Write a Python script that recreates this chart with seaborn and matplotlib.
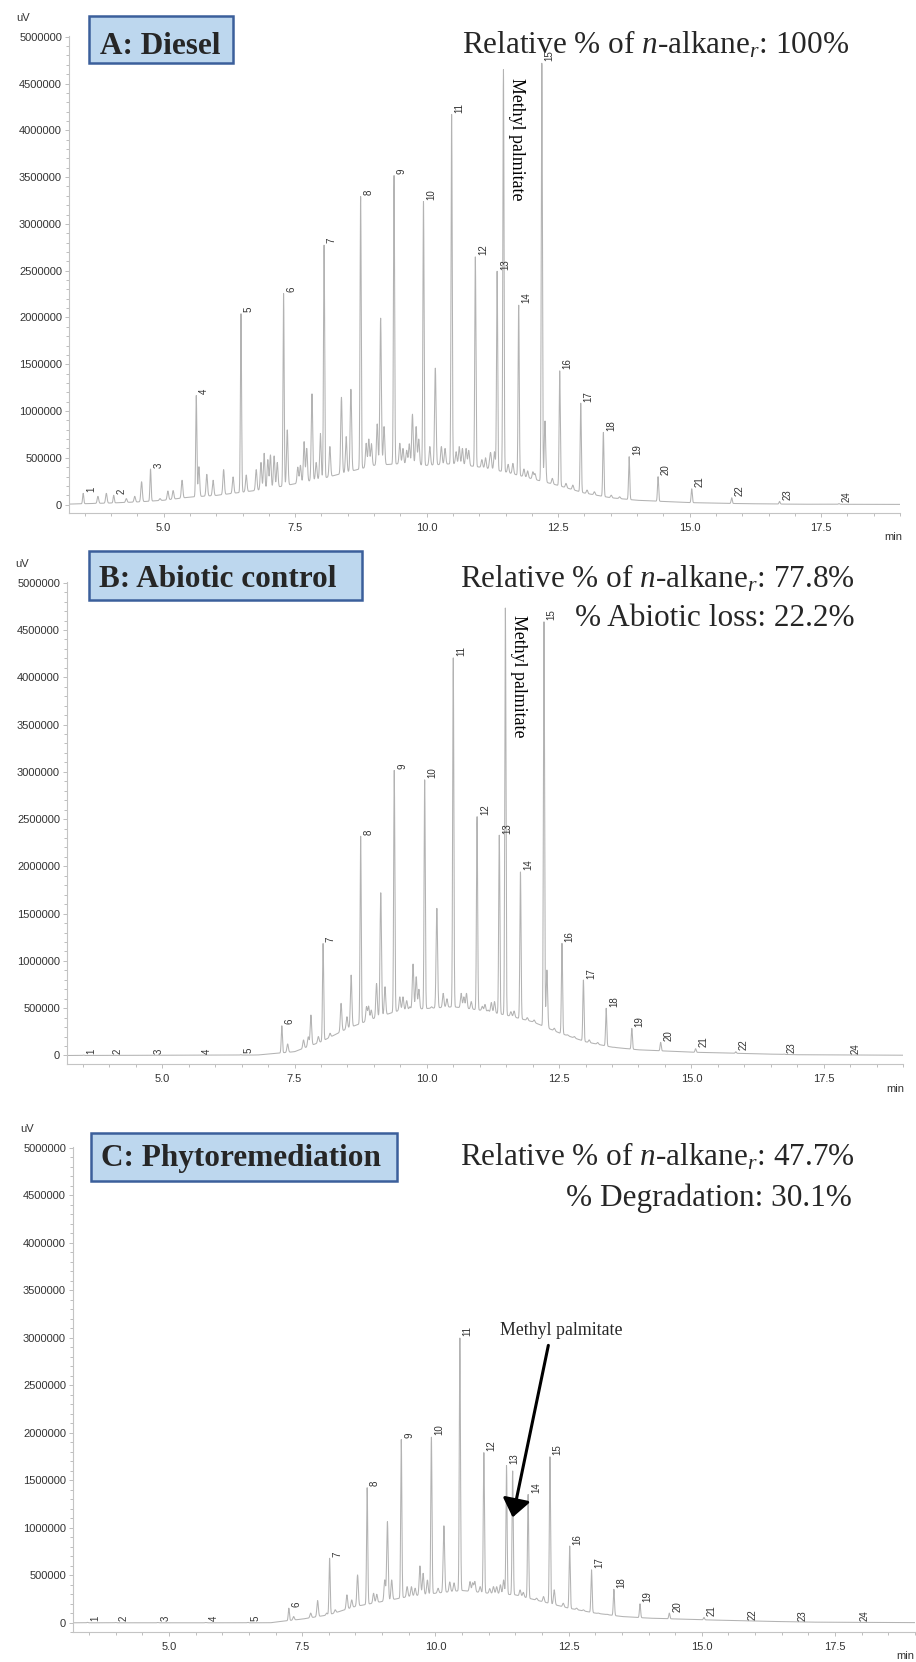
import numpy as np
import pandas as pd
import matplotlib
matplotlib.use("Agg")
import matplotlib.pyplot as plt
from matplotlib.patches import Rectangle
from matplotlib.ticker import MultipleLocator, FixedLocator, FormatStrFormatter
import seaborn as sns

W, H = 916, 1662

# numbered n-alkane peaks
peak_labels = [str(i) for i in range(1, 25)]

# A: diesel
rt_A = [3.47, 4.05, 4.75, 5.62, 6.47, 7.28, 8.05, 8.745, 9.38, 9.94, 10.475, 10.926,
        11.34, 11.75, 12.19, 12.53, 12.93, 13.36, 13.85, 14.40, 15.04, 15.80, 16.71, 17.84]
ht_A = [120000, 100000, 380000, 1165000, 2047000, 2261000, 2778000, 3296000, 3520000,
        3242000, 4170000, 2653000, 2493000, 2136000, 4724000, 1433000, 1083000, 773000,
        512000, 298000, 169000, 73000, 34000, 10000]
minor_rt_A = [3.75, 3.91, 4.29, 4.45, 4.58, 4.93, 5.08, 5.18, 5.35, 5.67, 5.82, 5.94, 6.14,
              6.32, 6.57, 6.76, 6.85, 6.91, 6.98, 7.03, 7.1, 7.16, 7.35, 7.55, 7.6, 7.67,
              7.72, 7.82, 7.9, 7.98, 8.16, 8.38, 8.47, 8.56, 8.85, 8.9, 8.95, 9.06, 9.125,
              9.19, 9.49, 9.55, 9.62, 9.67, 9.73, 9.80, 9.85, 10.06, 10.165, 10.28, 10.35,
              10.56, 10.62, 10.68, 10.75, 10.80, 11.05, 11.12, 11.2, 11.22, 11.29, 11.55,
              11.64, 11.85, 11.92, 12.02, 12.06, 12.25, 12.39, 12.65, 12.78, 13.05, 13.19,
              13.51, 13.67]
minor_ht_A = [88000, 120000, 64000, 88000, 244000, 64000, 145000, 150000, 260000, 405000,
              323000, 260000, 374000, 296000, 316000, 374000, 450000, 548000, 480000, 530000,
              520000, 450000, 798000, 400000, 420000, 672000, 600000, 1183000, 450000, 760000,
              620000, 1148000, 726000, 1233000, 655000, 700000, 650000, 862000, 1994000,
              834000, 655000, 600000, 580000, 650000, 966000, 834000, 700000, 620000,
              1458000, 620000, 600000, 565000, 620000, 600000, 600000, 580000, 480000,
              500000, 460000, 520000, 565000, 430000, 440000, 380000, 360000, 350000, 330000,
              894000, 280000, 226000, 208000, 155000, 137000, 100000, 83000]
base_rt_A = [3.2, 4.0, 4.5, 5.0, 5.5, 6.0, 6.5, 7.0, 7.5, 8.0, 8.5, 9.0, 9.5, 10.0, 10.5,
             11.0, 11.5, 12.0, 12.5, 13.0, 13.5, 14.0, 15.0, 16.0, 17.0, 19.0]
base_ht_A = [5000, 17000, 28000, 46000, 80000, 98000, 133000, 169000, 223000, 276000,
             348000, 419000, 437000, 419000, 437000, 401000, 348000, 276000, 205000, 123000,
             73000, 46000, 21000, 10000, 4000, 2000]

# B: abiotic control
rt_B = [3.51, 4.0, 4.79, 5.69, 6.48, 7.26, 8.04, 8.75, 9.385, 9.96, 10.50, 10.95, 11.37,
        11.77, 12.215, 12.555, 12.96, 13.39, 13.875, 14.42, 15.08, 15.84, 16.75, 17.95]
ht_B = [4000, 3000, 3000, 3000, 8000, 315000, 1186000, 2320000, 3018000, 2920000, 4209000,
        2532000, 2331000, 1943000, 4586000, 1186000, 798000, 499000, 287000, 139000, 72000,
        40000, 15000, 6000]
minor_rt_B = [7.37, 7.67, 7.76, 7.81, 7.95, 8.17, 8.38, 8.49, 8.57, 8.86, 8.9, 8.95, 9.05,
              9.13, 9.21, 9.49, 9.55, 9.62, 9.68, 9.74, 9.80, 9.85, 10.09, 10.19, 10.31,
              10.38, 10.65, 10.7, 10.75, 10.84, 11.05, 11.1, 11.16, 11.22, 11.28, 11.59,
              11.65, 11.9, 12.03, 12.27, 12.41, 12.66, 12.79, 13.07, 13.23, 13.54]
minor_ht_B = [122000, 164000, 197000, 428000, 200000, 235000, 552000, 410000, 851000, 515000,
              520000, 480000, 762000, 1721000, 727000, 620000, 620000, 580000, 515000,
              967000, 833000, 700000, 515000, 1556000, 657000, 600000, 657000, 620000,
              657000, 570000, 520000, 540000, 480000, 560000, 570000, 463000, 470000, 400000,
              375000, 904000, 288000, 218000, 200000, 165000, 137000, 88000]
base_rt_B = [3.2, 6.8, 7.0, 7.5, 8.0, 8.5, 9.0, 9.5, 10.0, 10.5, 11.0, 11.5, 12.0, 12.5,
             13.0, 13.5, 14.0, 15.0, 16.0, 17.0, 19.0]
base_ht_B = [0, 5000, 15000, 40000, 145000, 286000, 392000, 480000, 497000, 515000, 480000,
             427000, 357000, 240000, 145000, 88000, 60000, 35000, 21000, 8000, 3000]

# C: phytoremediation
rt_C = [3.47, 4.0, 4.79, 5.69, 6.48, 7.25, 8.015, 8.72, 9.36, 9.925, 10.46, 10.91, 11.335,
        11.74, 12.15, 12.52, 12.93, 13.35, 13.84, 14.39, 15.04, 15.81, 16.75, 17.9]
ht_C = [5000, 3000, 3000, 3000, 5000, 154000, 680000, 1425000, 1933000, 1957000, 3007000,
        1793000, 1660000, 1355000, 1747000, 809000, 557000, 354000, 200000, 102000, 56000,
        20000, 8000, 4000]
minor_rt_C = [7.34, 7.66, 7.79, 7.96, 8.12, 8.34, 8.43, 8.54, 8.84, 8.9, 9.05, 9.10, 9.18,
              9.47, 9.55, 9.62, 9.71, 9.77, 9.85, 10.05, 10.16, 10.27, 10.35, 10.65, 10.7,
              10.74, 10.84, 11.02, 11.09, 11.15, 11.22, 11.28, 11.59, 11.65, 11.90, 12.03,
              12.23, 12.40, 12.65, 12.78, 13.06, 13.22, 13.5]
minor_ht_C = [66000, 102000, 234000, 102000, 137000, 294000, 241000, 504000, 311000, 300000,
              451000, 1064000, 451000, 381000, 380000, 364000, 599000, 521000, 450000,
              364000, 1022000, 430000, 420000, 434000, 420000, 434000, 381000, 360000,
              381000, 380000, 400000, 451000, 346000, 320000, 259000, 276000, 347000, 206000,
              154000, 136000, 102000, 90000, 66000]
base_rt_C = [3.2, 6.9, 7.0, 7.5, 8.0, 8.5, 9.0, 9.5, 10.0, 10.5, 11.0, 11.5, 12.0, 12.5,
             13.0, 13.5, 14.0, 15.0, 16.0, 17.0, 19.0]
base_ht_C = [0, 0, 8000, 39000, 84000, 172000, 224000, 276000, 311000, 340000, 311000,
             294000, 224000, 154000, 102000, 66000, 49000, 32000, 18000, 7000, 2000]

# methyl palmitate peak in A, B, C
mp_rt = [11.46, 11.485, 11.45]
mp_ht = [4652000, 4744000, 1600000]

titles = ["A: Diesel", "B: Abiotic control", "C: Phytoremediation"]
rel_text = ["100%", "77.8%", "47.7%"]
second_line = [None, "% Abiotic loss: 22.2%", "% Degradation: 30.1%"]

sns.set_style("white")
plt.rcParams['font.family'] = ['Liberation Sans', 'DejaVu Sans']
plt.rcParams['mathtext.fontset'] = 'custom'
plt.rcParams['mathtext.rm'] = 'Liberation Serif'
plt.rcParams['mathtext.it'] = 'Liberation Serif:italic'

fig = plt.figure(figsize=(W / 100, H / 100), dpi=100)


def fx(px):
    return px / W


def fy(py):
    return 1 - py / H


def trace(t, rt, ht, mrt, mht, brt, bht):
    base = np.interp(t, brt, bht)
    y = base.copy()
    for r, h in zip(rt, ht):
        y += max(h - np.interp(r, brt, bht), 0) * np.exp(-0.5 * ((t - r) / 0.011) ** 2)
    for r, h in zip(mrt, mht):
        y += max(h - np.interp(r, brt, bht), 0) * np.exp(-0.5 * ((t - r) / 0.014) ** 2)
    return y


# axes boxes in pixels: left, top, right, bottom (spine)
boxes = [(69, 35.8, 900, 513), (67, 581.8, 903, 1064), (73, 1146.8, 915, 1632.3)]
ylows = [-90000, -90000, -100000]
panels = [(rt_A, ht_A, minor_rt_A, minor_ht_A, base_rt_A, base_ht_A),
          (rt_B, ht_B, minor_rt_B, minor_ht_B, base_rt_B, base_ht_B),
          (rt_C, ht_C, minor_rt_C, minor_ht_C, base_rt_C, base_ht_C)]

t = np.linspace(3.2, 19.0, 8000)
axes = []
for i, (box, ylo, pdata) in enumerate(zip(boxes, ylows, panels)):
    l, tp, r, b = box
    ax = fig.add_axes([fx(l), fy(b), (r - l) / W, (b - tp) / H])
    rt, ht, mrt, mht, brt, bht = pdata
    y = trace(t, list(rt) + [mp_rt[i]], list(ht) + [mp_ht[i]], mrt, mht, brt, bht)
    df = pd.DataFrame({"min": t, "uV": y})
    sns.lineplot(data=df, x="min", y="uV", ax=ax, color="#b3b3b3", linewidth=0.75,
                 estimator=None, sort=False)
    ax.set_xlim(3.2, 19.0)
    ax.set_ylim(ylo, 5010000)
    ax.set_xlabel("")
    ax.set_ylabel("")
    for s in ["top", "right"]:
        ax.spines[s].set_visible(False)
    for s in ["left", "bottom"]:
        ax.spines[s].set_color("#c4c4c4")
        ax.spines[s].set_linewidth(0.8)
    ax.xaxis.set_major_locator(FixedLocator([5.0, 7.5, 10.0, 12.5, 15.0, 17.5]))
    ax.xaxis.set_major_formatter(FormatStrFormatter('%.1f'))
    ax.xaxis.set_minor_locator(MultipleLocator(0.5))
    ax.yaxis.set_major_locator(MultipleLocator(500000))
    ax.yaxis.set_major_formatter(FormatStrFormatter('%d'))
    ax.yaxis.set_minor_locator(MultipleLocator(100000))
    ax.tick_params(axis='both', which='both', direction='out', color='#bdbdbd',
                   labelcolor='#333333', labelsize=8, width=0.7)
    ax.tick_params(axis='both', which='major', length=3)
    ax.tick_params(axis='both', which='minor', length=2)
    ax.tick_params(axis='x', which='major', pad=4)
    ax.tick_params(axis='y', which='major', pad=2)
    ax.tick_params(axis='x', which='both', bottom=True)
    ax.tick_params(axis='y', which='both', left=True)

    # peak numbers
    for lbl, r_, h_ in zip(peak_labels, rt, ht):
        ax.annotate(lbl, xy=(r_, h_), xytext=(2, 1), textcoords='offset points',
                    rotation=90, ha='left', va='bottom', fontsize=7, color='#333333')
    axes.append(ax)

# methyl palmitate labels
for i in range(2):
    axes[i].annotate("Methyl palmitate", xy=(mp_rt[i], mp_ht[i]), xytext=(9.5, -6),
                     textcoords='offset points', rotation=270, ha='center', va='top',
                     fontsize=12.75, family='Liberation Serif', color='black')
axes[2].annotate('', xy=(11.45, 1110000), xytext=(12.12, 2920000),
                 arrowprops=dict(arrowstyle='-|>,head_length=0.55,head_width=0.42',
                                 mutation_scale=20, lw=2.2, color='black',
                                 shrinkA=0, shrinkB=0))
fig.text(fx(500), fy(1335), "Methyl palmitate", fontsize=12.75, family='Liberation Serif',
         ha='left', va='baseline')

# title boxes and texts
rects = [(89, 16, 233, 63), (89, 551, 362, 600), (91, 1133, 397, 1181)]
title_x = [100, 99, 101]
base_y = [54, 587.3, 1166]
line2_y = [None, 626, 1206]
rel_x = [849, 855, 855]
line2_x = [None, 855, 852]
for i in range(3):
    x0, y0, x1, y1 = rects[i]
    fig.add_artist(Rectangle((fx(x0), fy(y1)), (x1 - x0) / W, (y1 - y0) / H,
                             transform=fig.transFigure, facecolor='#bdd7ee',
                             edgecolor='#3b5f9b', linewidth=1.8))
    fig.text(fx(title_x[i]), fy(base_y[i]), titles[i], fontsize=22.5, fontweight='bold',
             family='Liberation Serif', ha='left', va='baseline')
    fig.text(fx(rel_x[i]), fy(base_y[i]),
             r"Relative % of $\mathit{n}$-alkane$_{\mathit{r}}$: " + rel_text[i],
             fontsize=22.5, family='Liberation Serif', ha='right', va='baseline')
    if second_line[i]:
        fig.text(fx(line2_x[i]), fy(line2_y[i]), second_line[i], fontsize=22.5,
                 family='Liberation Serif', ha='right', va='baseline')

# unit labels
for (ux, uy) in [(23, 18), (22, 564), (27, 1129)]:
    fig.text(fx(ux), fy(uy), "uV", fontsize=8, color='#333333', ha='center', va='center')
for (mx, my) in [(893, 537), (895, 1089), (905, 1656)]:
    fig.text(fx(mx), fy(my), "min", fontsize=8, color='#333333', ha='center', va='center')

fig.savefig("out.png", dpi=100)
